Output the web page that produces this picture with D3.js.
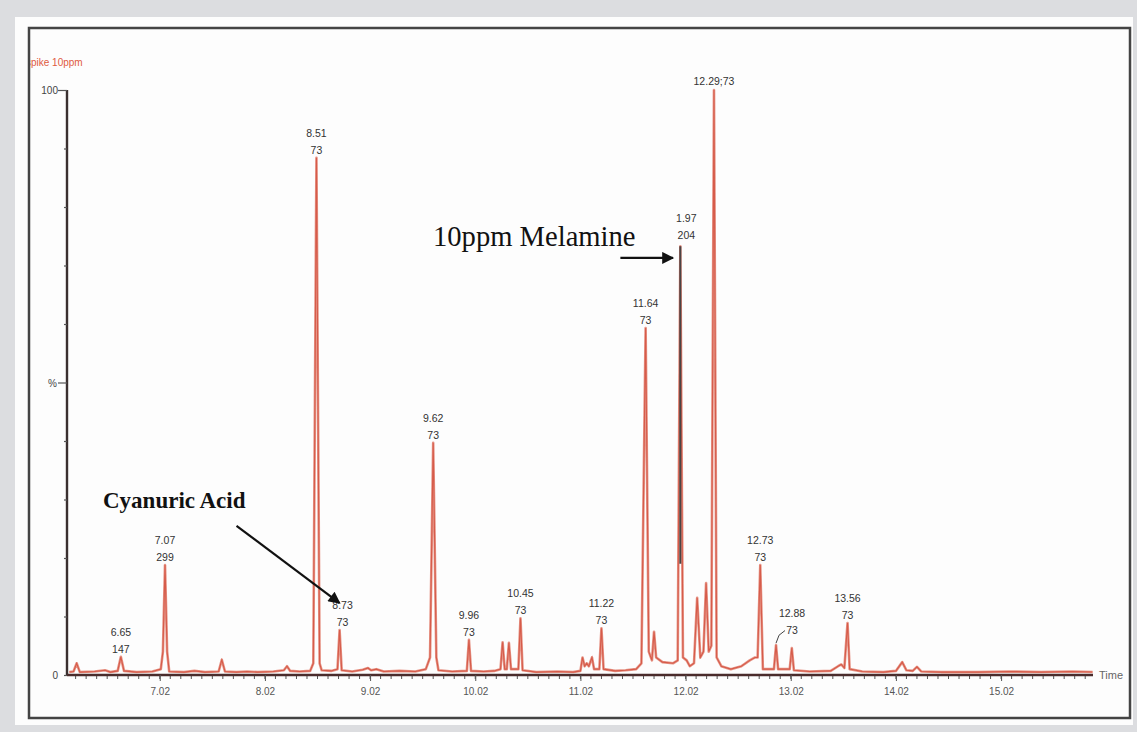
<!DOCTYPE html>
<html><head><meta charset="utf-8">
<script src="https://cdn.jsdelivr.net/npm/d3@7"></script>
<style>
html,body{margin:0;padding:0;background:#dcdde0;}
svg{display:block;}
</style></head>
<body>
<svg id="c" width="1137" height="732"></svg>
<script>
// ---- data ----
const traceTime = [6.16,6.20,6.23,6.26,6.40,6.50,6.55,6.62,6.65,6.68,6.80,6.95,7.03,7.05,7.07,7.09,7.11,7.25,7.35,7.45,7.58,7.61,7.64,7.75,7.85,7.95,8.10,8.20,8.23,8.26,8.35,8.45,8.48,8.51,8.54,8.56,8.65,8.71,8.73,8.75,8.85,8.95,9.00,9.03,9.08,9.15,9.30,9.45,9.55,9.59,9.62,9.65,9.67,9.80,9.94,9.96,9.98,10.10,10.20,10.26,10.28,10.30,10.32,10.34,10.36,10.43,10.45,10.47,10.60,10.80,10.95,11.02,11.04,11.06,11.08,11.10,11.13,11.15,11.20,11.22,11.24,11.35,11.45,11.55,11.60,11.64,11.67,11.70,11.72,11.74,11.80,11.90,11.945,11.97,11.995,12.03,12.06,12.10,12.13,12.16,12.19,12.215,12.24,12.265,12.29,12.315,12.36,12.45,12.55,12.63,12.68,12.705,12.73,12.755,12.86,12.88,12.90,13.01,13.03,13.05,13.20,13.40,13.47,13.50,13.53,13.56,13.58,13.70,13.90,14.02,14.08,14.12,14.18,14.22,14.26,14.45,14.80,15.10,15.40,15.70,15.89];
const traceIntensity = [0.5,0.6,2.0,0.5,0.6,0.8,0.5,0.7,3.1,0.7,0.5,0.6,1.0,4.0,18.8,4.0,0.6,0.5,0.7,0.5,0.6,2.6,0.6,0.5,0.6,0.5,0.6,0.8,1.5,0.7,0.6,0.7,2.0,88.4,2.0,0.8,0.7,1.0,7.7,0.8,0.6,0.9,1.2,0.8,1.0,0.6,0.7,0.6,1.0,3.0,39.7,3.0,0.8,0.6,0.7,6.0,0.7,0.6,0.7,1.0,5.6,1.0,1.0,5.5,1.0,1.0,9.7,0.8,0.5,0.6,0.5,0.7,3.0,1.5,2.0,1.5,3.0,1.0,1.0,8.0,1.0,0.7,0.8,1.0,2.0,59.3,4.0,2.5,7.4,3.0,2.2,2.0,2.5,73.3,3.0,2.5,1.5,2.0,13.2,3.0,4.0,15.7,4.0,5.0,100,3.0,1.5,1.0,1.5,2.5,3.0,3.0,18.8,1.0,1.0,5.1,1.0,1.0,4.6,0.8,0.6,0.7,1.5,1.8,1.2,8.9,1.0,0.6,0.5,0.7,2.2,0.8,0.7,1.4,0.6,0.5,0.5,0.6,0.5,0.6,0.5];

const peakTime   = [6.65, 7.07, 8.51, 8.73, 9.62, 9.96, 10.45, 11.22, 11.64, 11.97, 12.73, 12.88, 13.56];
const peakLine1  = ["6.65","7.07","8.51","8.73","9.62","9.96","10.45","11.22","11.64","1.97","12.73","12.88","13.56"];
const peakLine2  = ["147","299","73","73","73","73","73","73","73","204","73","73","73"];
const peakHeight = [3.1, 18.8, 88.4, 7.7, 39.7, 6.0, 9.7, 8.0, 59.3, 73.3, 18.8, 5.1, 8.9];
const topPeakTime = 12.29, topPeakLabel = "12.29;73";

const xTickValues = [7.02, 8.02, 9.02, 10.02, 11.02, 12.02, 13.02, 14.02, 15.02];
const xTickLabels = ["7.02","8.02","9.02","10.02","11.02","12.02","13.02","14.02","15.02"];
const yTickValues = [0,10,20,30,40,50,60,70,80,90,100];
const yTickLabels = {0:"0", 50:"%", 100:"100"};

const seriesName = "spike 10ppm";
const axisTitle = "Time";
const melamineText = "10ppm Melamine";
const cyanuricText = "Cyanuric Acid";

// ---- drawing ----
const svg = d3.select("#c");
svg.append("rect").attr("x",0).attr("y",0).attr("width",1137).attr("height",732).attr("fill","#dcdde0");
svg.append("rect").attr("x",15).attr("y",17).attr("width",1118).attr("height",708).attr("fill","#fdfdfd");

const x = d3.scaleLinear().domain([6.138, 15.894]).range([67, 1093]);
const y = d3.scaleLinear().domain([0, 100]).range([675, 90]);

const defs = svg.append("defs");
defs.append("marker").attr("id","ah").attr("viewBox","0 0 10 10").attr("refX",9).attr("refY",5)
  .attr("markerWidth",16).attr("markerHeight",12).attr("markerUnits","userSpaceOnUse")
  .attr("orient","auto")
  .append("path").attr("d","M0,0 L10,5 L0,10 z").attr("fill","#111");
defs.append("clipPath").attr("id","frameclip").append("rect").attr("x",30).attr("y",29).attr("width",1099).attr("height",688);

const g = svg.append("g").attr("clip-path","url(#frameclip)");
const font = "Liberation Sans, Arial, sans-serif";

// series name
g.append("text").attr("x",26).attr("y",66).attr("font-family",font)
  .attr("font-size",10).attr("fill","#df5a40").text(seriesName);

// y axis
const yAxis = d3.axisLeft(y).tickValues(yTickValues).tickSize(3).tickFormat("");
const ya = g.append("g").attr("transform","translate(67,0)").call(yAxis);
ya.select(".domain").attr("stroke","#3a3030").attr("stroke-width",2.4).attr("d","M0,90V675");
ya.selectAll(".tick line").attr("stroke","#555").attr("stroke-width",1.2)
  .attr("x2", d => (d===100||d===50) ? -9 : -3);
ya.selectAll(".tick").filter(d => yTickLabels[d] !== undefined).append("text")
  .attr("x", d => d===50 ? -10 : -9).attr("dy","0.35em").attr("text-anchor","end")
  .attr("font-family",font).attr("font-size",10).attr("fill","#444")
  .text(d => yTickLabels[d]);

// x axis
const minor = d3.range(6.22, 15.89, 0.1);
g.append("g").selectAll("line").data(minor).join("line")
  .attr("x1", d=>x(d)).attr("x2", d=>x(d)).attr("y1",675).attr("y2",679)
  .attr("stroke","#555").attr("stroke-width",1);
const xAxis = d3.axisBottom(x).tickValues(xTickValues).tickSize(6).tickFormat((d,i)=>xTickLabels[i]);
const xa = g.append("g").attr("transform","translate(0,675)").call(xAxis);
xa.select(".domain").attr("stroke","#4a2c2c").attr("stroke-width",2.6).attr("d","M67,0H1093");
xa.selectAll(".tick line").attr("stroke","#555");
xa.selectAll(".tick text").attr("font-family",font).attr("font-size",10)
  .attr("fill","#555").attr("dy","1.05em");
g.append("text").attr("x",1099).attr("y",679).attr("font-family",font)
  .attr("font-size",11).attr("fill","#666").text(axisTitle);

// trace
const pts = traceTime.map((t,i)=>[t, traceIntensity[i]]);
const line = d3.line().x(d=>x(d[0])).y(d=>y(d[1]));
g.append("path").datum(pts).attr("d",line).attr("fill","none")
  .attr("stroke","#e48a7a").attr("stroke-width",2.6).attr("stroke-linejoin","round").attr("opacity",0.9);
g.append("path").datum(pts).attr("d",line).attr("fill","none")
  .attr("stroke","#d2513f").attr("stroke-width",1.1).attr("opacity",0.85);

// melamine dark overlay
g.append("line").attr("x1",x(11.97)).attr("x2",x(11.97)).attr("y1",y(73.3)).attr("y2",y(19))
  .attr("stroke","#4a4444").attr("stroke-width",2);

// peak labels
const labelDx = {"12.88": 16, "8.73": 3, "1.97": 6};
peakTime.forEach((t,i)=>{
  const lx = x(t) + (labelDx[peakLine1[i]] || 0);
  let base = y(peakHeight[i]) - 4;
  if (peakLine1[i]==="12.88") base = y(peakHeight[i]) - 11;
  if (peakLine1[i]==="1.97") base = y(peakHeight[i]) - 7;
  g.append("text").attr("x",lx).attr("y",base).attr("text-anchor","middle")
    .attr("font-family",font).attr("font-size",10.5).attr("fill","#333").text(peakLine2[i]);
  g.append("text").attr("x",lx).attr("y",base-17).attr("text-anchor","middle")
    .attr("font-family",font).attr("font-size",10.5).attr("fill","#333").text(peakLine1[i]);
});
g.append("text").attr("x",x(topPeakTime)).attr("y",y(100)-5).attr("text-anchor","middle")
  .attr("font-family",font).attr("font-size",10.5).attr("fill","#333").text(topPeakLabel);
// leader for 12.88
g.append("path").attr("d",`M${x(12.88)},${y(5.1)-2} L${x(12.88)+3},${y(6.8)} L${x(12.88)+9},${y(7.6)}`)
  .attr("fill","none").attr("stroke","#444").attr("stroke-width",1);

// annotations
g.append("text").attr("x",433).attr("y",246).attr("font-family","Liberation Serif, Times New Roman, serif")
  .attr("font-size",28.6).attr("fill","#111").text(melamineText);
g.append("line").attr("x1",x(11.40)).attr("y1",y(71.3)).attr("x2",x(11.90)).attr("y2",y(71.3))
  .attr("stroke","#111").attr("stroke-width",2.2).attr("marker-end","url(#ah)");

g.append("text").attr("x",103).attr("y",508).attr("font-family","Liberation Serif, Times New Roman, serif")
  .attr("font-weight","bold").attr("font-size",23).attr("fill","#111").text(cyanuricText);
g.append("line").attr("x1",x(7.75)).attr("y1",y(25.5)).attr("x2",x(8.73)).attr("y2",y(12.3))
  .attr("stroke","#111").attr("stroke-width",2.2).attr("marker-end","url(#ah)");

// frame
svg.append("rect").attr("x",29).attr("y",28).attr("width",1101).attr("height",690)
  .attr("fill","none").attr("stroke","#444").attr("stroke-width",2.5);
</script>
</body></html>
